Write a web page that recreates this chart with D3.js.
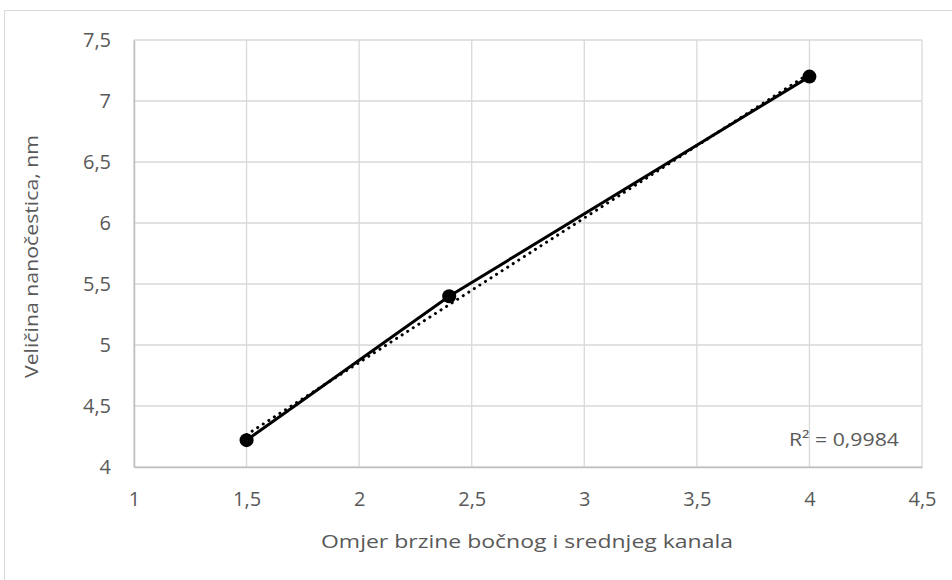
<!DOCTYPE html>
<html>
<head>
<meta charset="utf-8">
<script src="https://cdn.jsdelivr.net/npm/d3@7"></script>
<style>
  body { margin: 0; background: #fff; }
  text { font-family: "Open Sans", "Noto Sans", sans-serif; fill: #595959; }
</style>
</head>
<body>
<svg width="952" height="580"></svg>
<script>
// data
var ratios = [1.5, 2.4, 4];
var sizes = [4.22, 5.4, 7.2];
var xTicks = [1, 1.5, 2, 2.5, 3, 3.5, 4, 4.5];
var yTicks = [4, 4.5, 5, 5.5, 6, 6.5, 7, 7.5];
var rSquaredLabel = "R² = 0,9984";

var margin = { top: 40, right: 30, bottom: 113, left: 134 },
    width = 952 - margin.left - margin.right,
    height = 580 - margin.top - margin.bottom;

var svg = d3.select("svg");

// chart border
svg.append("rect")
    .attr("x", 4.5).attr("y", 10.5)
    .attr("width", 1000).attr("height", 700)
    .attr("fill", "none")
    .attr("stroke", "#d9d9d9");

var g = svg.append("g")
    .attr("transform", "translate(" + margin.left + "," + margin.top + ")");

var x = d3.scaleLinear().domain([1, 4.5]).range([0, width]);
var y = d3.scaleLinear().domain([4, 7.5]).range([height, 0]);

var fmt = function (d) { return String(d).replace(".", ","); };

// gridlines
g.selectAll("line.vgrid")
    .data(xTicks)
    .enter().append("line")
    .attr("class", "vgrid")
    .attr("x1", function (d) { return x(d); })
    .attr("x2", function (d) { return x(d); })
    .attr("y1", 0).attr("y2", height)
    .attr("stroke", "#d9d9d9").attr("stroke-width", 1.3);

g.selectAll("line.hgrid")
    .data(yTicks)
    .enter().append("line")
    .attr("class", "hgrid")
    .attr("x1", 0).attr("x2", width)
    .attr("y1", function (d) { return y(d); })
    .attr("y2", function (d) { return y(d); })
    .attr("stroke", "#d9d9d9").attr("stroke-width", 1.3);

// axes
var xAxis = g.append("g")
    .attr("transform", "translate(0," + height + ")")
    .call(d3.axisBottom(x).tickValues(xTicks).tickFormat(fmt).tickSize(0).tickPadding(25));
var yAxis = g.append("g")
    .call(d3.axisLeft(y).tickValues(yTicks).tickFormat(fmt).tickSize(0).tickPadding(23));

[xAxis, yAxis].forEach(function (a) {
    a.select(".domain").attr("stroke", "#bfbfbf").attr("stroke-width", 1.5);
    a.selectAll("text")
        .style("font-size", "20px")
        .style("font-family", "'Open Sans', sans-serif")
        .attr("fill", "#595959");
});

// linear trendline (least squares on the data)
var mx = d3.mean(ratios), my = d3.mean(sizes),
    sxy = d3.sum(ratios, function (v, i) { return (v - mx) * (sizes[i] - my); }),
    sxx = d3.sum(ratios, function (v) { return (v - mx) * (v - mx); }),
    slope = sxy / sxx,
    intercept = my - slope * mx;
var trendX = d3.extent(ratios);

g.append("line")
    .attr("x1", x(trendX[0])).attr("y1", y(intercept + slope * trendX[0]))
    .attr("x2", x(trendX[1])).attr("y2", y(intercept + slope * trendX[1]))
    .attr("stroke", "#000")
    .attr("stroke-width", 3)
    .attr("stroke-dasharray", "0.1 6.5")
    .attr("stroke-linecap", "round");

// series line
var points = ratios.map(function (v, i) { return [v, sizes[i]]; });
g.append("path")
    .datum(points)
    .attr("fill", "none")
    .attr("stroke", "#000")
    .attr("stroke-width", 3)
    .attr("d", d3.line()
        .x(function (d) { return x(d[0]); })
        .y(function (d) { return y(d[1]); }));

g.selectAll("circle.pt")
    .data(points)
    .enter().append("circle")
    .attr("class", "pt")
    .attr("cx", function (d) { return x(d[0]); })
    .attr("cy", function (d) { return y(d[1]); })
    .attr("r", 7)
    .attr("fill", "#000");

// R² label
g.append("text")
    .attr("x", 655).attr("y", 406)
    .attr("textLength", 110)
    .attr("lengthAdjust", "spacingAndGlyphs")
    .style("font-size", "18px")
    .text(rSquaredLabel);

// axis titles
svg.append("text")
    .attr("x", margin.left + width / 2 - 1)
    .attr("y", 548)
    .attr("text-anchor", "middle")
    .attr("textLength", 412)
    .attr("lengthAdjust", "spacingAndGlyphs")
    .style("font-size", "19px")
    .text("Omjer brzine bočnog i srednjeg kanala");

svg.append("text")
    .attr("transform", "translate(38," + (margin.top + height / 2 + 3) + ") rotate(-90)")
    .attr("text-anchor", "middle")
    .attr("textLength", 243)
    .attr("lengthAdjust", "spacingAndGlyphs")
    .style("font-size", "19px")
    .text("Veličina nanočestica, nm");
</script>
</body>
</html>
